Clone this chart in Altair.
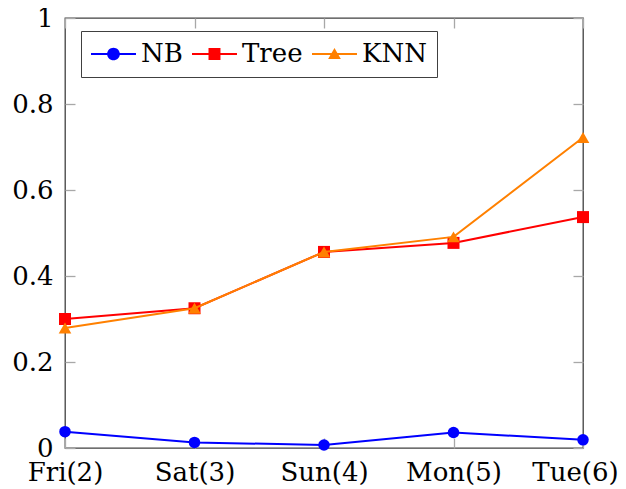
import altair as alt
import pandas as pd

# ---- data ----
days = ["Fri(2)", "Sat(3)", "Sun(4)", "Mon(5)", "Tue(6)"]
series_names = ["NB", "Tree", "KNN"]
nb_values = [0.038, 0.013, 0.007, 0.036, 0.019]
tree_values = [0.300, 0.325, 0.456, 0.477, 0.537]
knn_values = [0.279, 0.325, 0.456, 0.491, 0.722]
y_ticks = [0, 0.2, 0.4, 0.6, 0.8, 1.0]

# ---- styles ----
colors = ["#0000ff", "#ff0000", "#ff8000"]
marker_shapes = ["circle", "square", "triangle-up"]
marker_sizes = [133, 144, 160]
# legend glyphs: a short line with the marker on it (unit = 13 px)
_bar = "M-1,-0.077H2.46V0.077H-1Z"
legend_paths = [
    _bar + "M0.24,0A0.49,0.49,0,1,1,1.22,0A0.49,0.49,0,1,1,0.24,0Z",
    _bar + "M0.27,-0.46H1.19V0.46H0.27Z",
    _bar + "M0.73,-0.47L1.22,0.38L0.24,0.38Z",
]
FONT = "DejaVu Serif"
FS = 26
TICK_GRAY = "#a8a8a8"

rows = []
for name, vals in zip(series_names, [nb_values, tree_values, knn_values]):
    for d, v in zip(days, vals):
        rows.append({"series": name, "day": d, "value": v})
df = pd.DataFrame(rows)

x_scale = alt.Scale(type="point", domain=days, padding=0)
y_scale = alt.Scale(domain=[0, 1], nice=False, zero=False)

x_main = alt.X("day:N", scale=x_scale, title=None,
               axis=alt.Axis(orient="bottom", domain=False, ticks=False, tickSize=0,
                             grid=True, gridDash=[10, 2000], gridColor=TICK_GRAY, gridWidth=1.3,
                             labelFont=FONT, labelFontSize=FS, labelColor="black",
                             labelPadding=11, labelAngle=0, labelOverlap=False,
                             labelOffset={"condition": {"test": f"datum.value == '{days[-1]}'",
                                                        "value": -8},
                                          "value": 0}))
y_main = alt.Y("value:Q", scale=y_scale, title=None,
               axis=alt.Axis(orient="left", values=y_ticks, format="~g", domain=False,
                             ticks=False, tickSize=0, grid=True, gridDash=[10, 2000],
                             gridColor=TICK_GRAY, gridWidth=1.3,
                             labelFont=FONT, labelFontSize=FS, labelColor="black",
                             labelPadding=12, labelOverlap=False))

base = alt.Chart(df).encode(x=x_main, y=y_main)

layers = []
for name, color, shape, size in zip(series_names, colors, marker_shapes, marker_sizes):
    sub = base.transform_filter(alt.datum.series == name)
    layers.append(sub.mark_line(color=color, strokeWidth=2))
    layers.append(sub.mark_point(shape=shape, filled=True, color=color, size=size, opacity=1))

legend_layer = alt.Chart(df).transform_filter("false").mark_point(filled=True, opacity=1).encode(
    color=alt.Color("series:N", scale=alt.Scale(domain=series_names, range=colors),
                    legend=alt.Legend(title=None)),
    shape=alt.Shape("series:N", scale=alt.Scale(domain=series_names, range=legend_paths),
                    legend=alt.Legend(title=None)),
)

main = alt.layer(*layers, legend_layer)

frame = alt.Chart(df).mark_point(opacity=0).encode(
    x=alt.X("day:N", scale=x_scale, title=None,
            axis=alt.Axis(orient="top", labels=False, domain=False, ticks=False, tickSize=0,
                          grid=True, gridDash=[10, 2000], gridColor=TICK_GRAY, gridWidth=1.3)),
    y=alt.Y("value:Q", scale=y_scale, title=None,
            axis=alt.Axis(orient="right", values=y_ticks, labels=False, domain=False,
                          ticks=False, tickSize=0, grid=True, gridDash=[10, 2000],
                          gridColor=TICK_GRAY, gridWidth=1.3)),
)

chart = (
    alt.layer(main, frame)
    .resolve_scale(x="independent", y="independent")
    .properties(width=518, height=430,
                padding={"left": 57, "top": 10, "right": 35, "bottom": 40},
                autosize=alt.AutoSizeParams(type="none"))
    .configure(font=FONT)
    .configure_view(stroke="#404040", strokeWidth=1.3)
    .configure_legend(orient="none", legendX=16, legendY=13, direction="horizontal",
                      labelFont=FONT, labelFontSize=FS, labelColor="black",
                      symbolSize=676, symbolStrokeWidth=0, symbolOpacity=1,
                      labelOffset=24, columnPadding=9, padding=10,
                      strokeColor="#404040", fillColor="white")
)

chart.save("out.html", embed_options={"renderer": "svg", "actions": False})
